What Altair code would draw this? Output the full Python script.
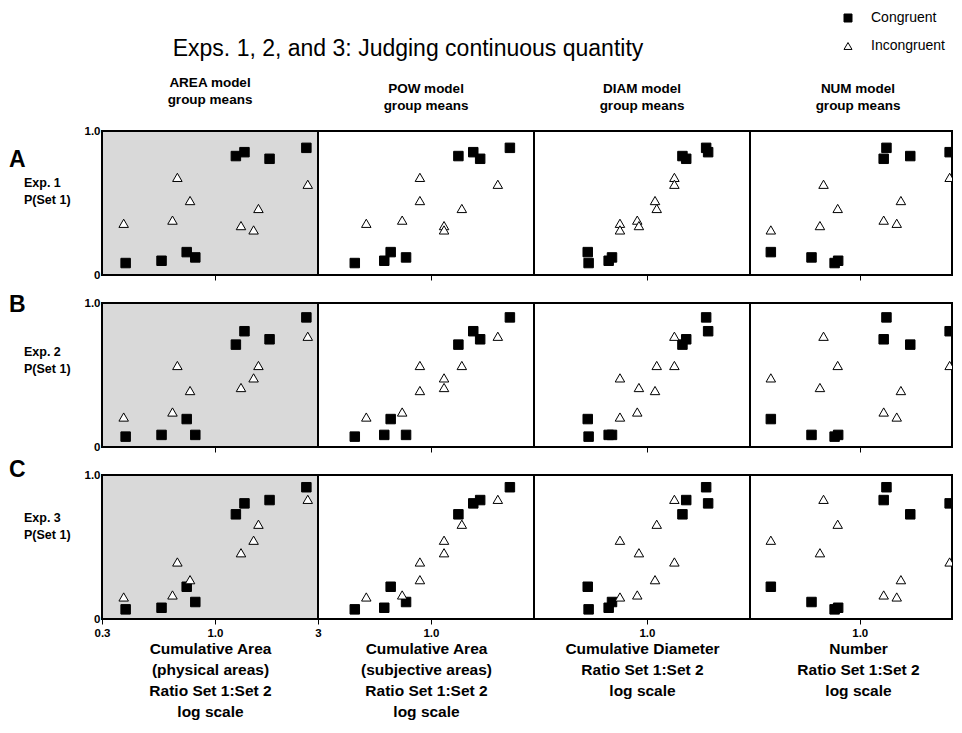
import math
import altair as alt
import pandas as pd

FONT = "Liberation Sans"

# ---- data -------------------------------------------------------------
condition = ["Congruent"] * 8 + ["Incongruent"] * 8

# ratio Set 1 : Set 2 of each stimulus pair under each model (log scale)
x_area = [0.386, 0.566, 0.740, 0.811, 1.25, 1.37, 1.79, 2.65,
          0.378, 0.670, 0.767, 0.636, 1.32, 1.51, 1.59, 2.69]
x_pow = [0.444, 0.608, 0.651, 0.767, 1.34, 1.57, 1.69, 2.32,
         0.502, 0.889, 0.889, 0.736, 1.15, 1.15, 1.39, 2.04]
x_diam = [0.537, 0.665, 0.532, 0.689, 1.46, 1.92, 1.52, 1.88,
          0.750, 1.34, 1.09, 0.902, 0.918, 0.750, 1.11, 1.34]
x_num = [0.759, 0.789, 0.377, 0.589, 1.74, 2.68, 1.30, 1.34,
         1.50, 2.68, 1.57, 1.30, 0.646, 0.377, 0.785, 0.672]

# group mean P(Set 1) of each stimulus pair per experiment
p_exp1 = [0.083, 0.099, 0.159, 0.122, 0.826, 0.853, 0.807, 0.883,
          0.359, 0.678, 0.517, 0.381, 0.343, 0.313, 0.462, 0.630]
p_exp2 = [0.072, 0.084, 0.194, 0.084, 0.711, 0.804, 0.748, 0.900,
          0.208, 0.566, 0.392, 0.243, 0.413, 0.480, 0.566, 0.769]
p_exp3 = [0.067, 0.078, 0.224, 0.118, 0.727, 0.803, 0.826, 0.915,
          0.153, 0.396, 0.273, 0.167, 0.460, 0.547, 0.658, 0.831]

model_headers = [["AREA model", "group means"], ["POW model", "group means"],
                 ["DIAM model", "group means"], ["NUM model", "group means"]]
x_titles = [["Cumulative Area", "(physical areas)", "Ratio Set 1:Set 2", "log scale"],
            ["Cumulative Area", "(subjective areas)", "Ratio Set 1:Set 2", "log scale"],
            ["Cumulative Diameter", "Ratio Set 1:Set 2", "log scale"],
            ["Number", "Ratio Set 1:Set 2", "log scale"]]
row_letters = ["A", "B", "C"]
row_labels = ["Exp. 1\nP(Set 1)", "Exp. 2\nP(Set 1)", "Exp. 3\nP(Set 1)"]
main_title = ["Exps. 1, 2, and 3: Judging continuous quantity"]

x_cols = [x_area, x_pow, x_diam, x_num]
p_rows = [p_exp1, p_exp2, p_exp3]

# ---- layout ------------------------------------------------------------
W, W4, H = 216, 202, 144
X4MAX = 2.75
letter_y = [29, 2, -5]
label_y = [52, 49, 43]

cond_domain = ["Congruent", "Incongruent"]
shape_scale = alt.Scale(domain=cond_domain, range=["square", "triangle-up"])
fill_scale = alt.Scale(domain=cond_domain, range=["black", "white"])
stroke_scale = alt.Scale(domain=cond_domain, range=["black", "black"])
legend = alt.Legend(title=None, orient="none", legendX=739, legendY=-120,
                    labelFont=FONT, labelFontSize=14, labelColor="black",
                    symbolSize=64, symbolStrokeColor="black", symbolStrokeWidth=1,
                    rowPadding=14, labelOffset=16, padding=0)


def panel(ci, ri):
    df = pd.DataFrame({"ratio": x_cols[ci], "p": p_rows[ri], "condition": condition})
    w = W if ci < 3 else W4
    xmax = 3.0 if ci < 3 else X4MAX
    bottom = ri == 2
    xvals = [0.3, 1, 3] if (ci == 0 and bottom) else [1]
    axis_kw = dict(values=xvals, labels=bottom, ticks=True, tickSize=5,
                   tickColor="black", tickWidth=1, domain=False, grid=False,
                   labelFlush=False, labelFont=FONT, labelFontSize=11.5,
                   labelFontWeight="bold", labelColor="black", labelPadding=3,
                   labelExpr="datum.value == 1 ? '1.0' : format(datum.value, '~g')")
    if bottom:
        axis_kw.update(title=x_titles[ci], titleFont=FONT, titleFontSize=15.5,
                       titleFontWeight="bold", titleColor="black", titleLineHeight=21,
                       titlePadding=3, titleX=108, titleAlign="center")
    else:
        axis_kw.update(title=None)
    xaxis = alt.Axis(**axis_kw)
    if ci == 0:
        yaxis = alt.Axis(values=[0, 1], labelExpr="datum.value == 1 ? '1.0' : '0'",
                         ticks=False, domain=False, grid=False, title=None,
                         labelFont=FONT, labelFontSize=11.5, labelFontWeight="bold",
                         labelColor="black", labelPadding=2)
    else:
        yaxis = None
    pts = alt.Chart(df).mark_point(filled=True, strokeWidth=1, size=90,
                                   opacity=1, clip=True).encode(
        x=alt.X("ratio:Q", scale=alt.Scale(type="log", domain=[0.3, xmax], nice=False),
                axis=xaxis),
        y=alt.Y("p:Q", scale=alt.Scale(domain=[0, 1], nice=False, zero=False), axis=yaxis),
        shape=alt.Shape("condition:N", scale=shape_scale, legend=legend),
        fill=alt.Fill("condition:N", scale=fill_scale, legend=legend),
        stroke=alt.Stroke("condition:N", scale=stroke_scale, legend=legend),
    )
    layers = [pts]
    if ci == 0:
        lt = alt.Chart(pd.DataFrame({"t": [row_letters[ri]]})).mark_text(
            font=FONT, fontSize=23, fontWeight="bold", align="left", baseline="middle",
            color="black").encode(x=alt.value(-93), y=alt.value(letter_y[ri]), text="t:N")
        el = alt.Chart(pd.DataFrame({"t": [row_labels[ri]]})).mark_text(
            font=FONT, fontSize=12.5, fontWeight="bold", align="left", baseline="middle",
            lineBreak="\n", lineHeight=17, color="black").encode(
            x=alt.value(-78), y=alt.value(label_y[ri]), text="t:N")
        layers += [lt, el]
        if ri == 1:
            mt = alt.Chart(pd.DataFrame({"t": main_title})).mark_text(
                font=FONT, fontSize=23, align="center", baseline="middle",
                color="black").encode(x=alt.value(306), y=alt.value(48 - 302), text="t:N")
            layers.append(mt)
    props = dict(width=w, height=H,
                 view=alt.ViewBackground(fill="#d9d9d9" if ci == 0 else "white",
                                         stroke="black", strokeWidth=2))
    if ri == 0:
        props["title"] = alt.TitleParams(model_headers[ci], font=FONT, fontSize=13.5,
                                         fontWeight="bold", color="black", lineHeight=17,
                                         anchor="middle", offset=19,
                                         dx=7 if ci == 3 else 0)
    return alt.layer(*layers).properties(**props)


panels = [panel(ci, ri) for ri in range(3) for ci in range(4)]
chart = alt.concat(*panels, columns=4, spacing=alt.RowColnumber(row=28, column=0),
                   bounds="flush").properties(
    padding={"left": 0, "top": 3, "right": 0, "bottom": 2}, background="white"
).configure(font=FONT).configure_view(stroke="black")

chart.save("out.html", embed_options={"renderer": "svg", "actions": False})
